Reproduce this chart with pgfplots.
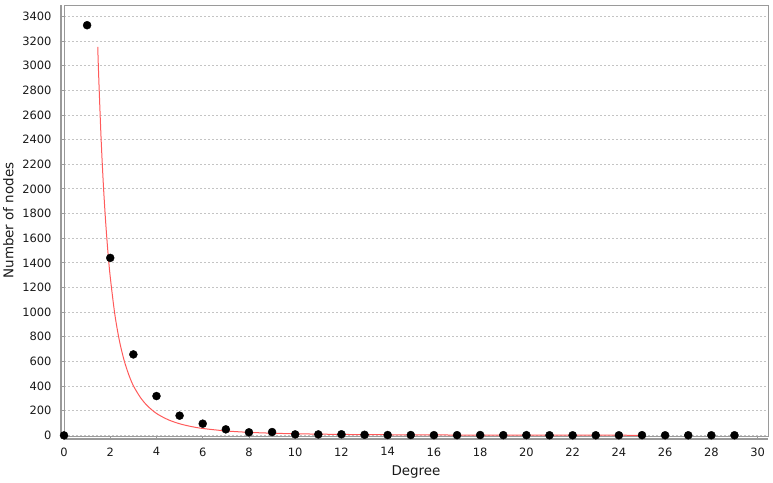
\documentclass[border=0pt]{standalone}
\usepackage{pgfplots}
\pgfplotsset{compat=1.18}
\usepackage{fontspec}
\setmainfont{DejaVu Sans}
\definecolor{fitred}{HTML}{FF5A5A}
\definecolor{gridgray}{HTML}{C4C4C4}
\definecolor{framegray}{HTML}{9A9A9A}
\begin{document}
\begin{tikzpicture}
\begin{axis}[
  scale only axis,
  width=704bp, height=431bp,
  xmin=0, xmax=30.45,
  ymin=-5, ymax=3492,
  xtick={0,2,...,30},
  ytick={0,200,...,3400},
  /pgf/number format/assume math mode=true,
  /pgf/number format/set thousands separator={},
  ticklabel style={font=\fontsize{11.5}{13}\selectfont, text=black!90},
  xticklabel style={yshift=-4bp},
  yticklabel style={xshift=-5bp},
  label style={font=\fontsize{13.5}{15}\selectfont, text=black!90},
  xlabel={Degree},
  ylabel={Number of nodes},
  xlabel style={yshift=-3bp},
  ylabel style={yshift=2bp},
  axis line style={framegray, line width=0.8bp},
  tick align=outside,
  major tick length=4bp,
  tick style={framegray, line width=0.8bp},
  xtick pos=bottom, ytick pos=left,
  ymajorgrids,
  major grid style={gridgray, line width=0.8bp, dash pattern=on 2bp off 2bp},
  clip=false,
]
\draw[framegray, line width=1.4bp] ([xshift=-3bp]rel axis cs:0,0) -- ([xshift=-3bp]rel axis cs:0,1);
\draw[framegray, line width=1.4bp] ([yshift=-3bp]rel axis cs:0,0) -- ([yshift=-3bp]rel axis cs:1,0);
\addplot[fitred, line width=1bp, smooth] coordinates {
(1.46,3153) (1.5,2918) (1.6,2428) (1.7,2043) (1.8,1736) (1.9,1488)
(2.0,1286) (2.2,980) (2.4,765) (2.6,609) (2.8,493) (3.0,403)
(3.3,309) (3.6,241) (4.0,178) (4.5,127.5) (5.0,94.4) (5.5,72)
(6,56.1) (7,36.2) (8,24.7) (9,17.7) (10,13.1) (12,7.8) (14,5.0)
(17,2.9) (20,1.8) (25,1.0)
};
\addplot[only marks, mark=*, mark size=4bp, black] coordinates {
(0,0) (1,3328) (2,1440) (3,657) (4,319) (5,160) (6,95) (7,49)
(8,25) (9,27) (10,8) (11,8) (12,9) (13,5) (14,3) (15,3) (16,2)
(17,2) (18,3) (19,2) (20,2) (21,1) (22,1) (23,1) (24,1) (25,2)
(26,1) (27,1) (28,1) (29,1)
};
\end{axis}
\pgfresetboundingbox
\useasboundingbox (-64bp,-47bp) rectangle (709bp,436bp);
\end{tikzpicture}
\end{document}
